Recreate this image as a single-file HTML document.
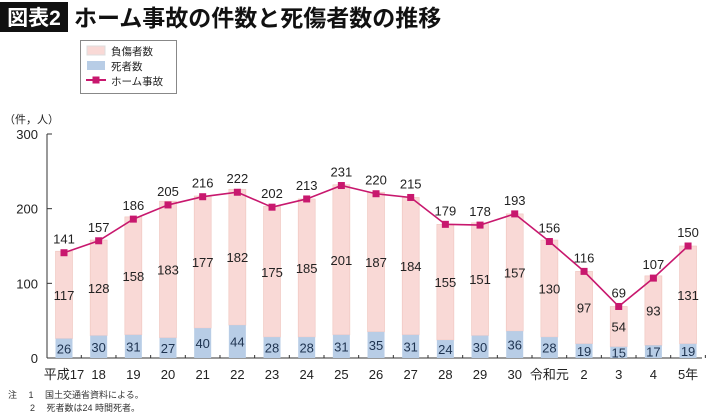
<!DOCTYPE html>
<html><head><meta charset="utf-8"><style>
body{margin:0;background:#fff;width:710px;height:416px;overflow:hidden;font-family:"Liberation Sans","Noto Sans CJK JP",sans-serif}
svg{display:block}
text{font-family:"Liberation Sans","Noto Sans CJK JP",sans-serif}
</style></head><body>
<svg id="c" width="710" height="416">
<rect x="0" y="2" width="68" height="30" fill="#111"/>
<text x="34" y="25" fill="#fff" font-size="21" font-weight="bold" text-anchor="middle">図表2</text>
<text x="74" y="26" fill="#111" font-size="23" font-weight="bold">ホーム事故の件数と死傷者数の推移</text>
<g>
<rect x="80.5" y="40.5" width="96" height="53" fill="#fff" stroke="#888"/>
<rect x="87" y="46" width="18" height="9" fill="#f9d9d6" stroke="#ddd"/>
<text x="111" y="55" font-size="10.5" fill="#222">負傷者数</text>
<rect x="87" y="61" width="18" height="9" fill="#b8cde6"/>
<text x="111" y="70" font-size="10.5" fill="#222">死者数</text>
<line x1="86" y1="80" x2="106" y2="80" stroke="#c8186e" stroke-width="2"/>
<rect x="92.5" y="76.5" width="7" height="7" fill="#c8186e"/>
<text x="111" y="85" font-size="10.5" fill="#222">ホーム事故</text>
</g>
<text x="4" y="123" font-size="11" fill="#222">（件，人）</text>
<g id="plot"></g>
<text x="8" y="398" font-size="9" fill="#333">注　 1　 国土交通省資料による。</text>
<text x="30" y="411" font-size="9" fill="#333">2　 死者数は24 時間死者。</text>
</svg>
<script>
const categories=["平成17","18","19","20","21","22","23","24","25","26","27","28","29","30","令和元","2","3","4","5年"];
const accidents=[141,157,186,205,216,222,202,213,231,220,215,179,178,193,156,116,69,107,150];
const injured=[117,128,158,183,177,182,175,185,201,187,184,155,151,157,130,97,54,93,131];
const deaths=[26,30,31,27,40,44,28,28,31,35,31,24,30,36,28,19,15,17,19];
const yTicks=[0,100,200,300];
const NS="http://www.w3.org/2000/svg";
const g=document.getElementById('plot');
const y=v=>358-v*224/300;
const x=i=>64+i*34.67;
function mk(t,a,p){const e=document.createElementNS(NS,t);for(const k in a)e.setAttribute(k,a[k]);(p||g).appendChild(e);return e;}
// axes
let e=mk('line',{x1:47,y1:y(300),x2:47,y2:358,stroke:'#333','stroke-width':1});


e=mk('line',{x1:47,y1:358,x2:702,y2:358,stroke:'#333','stroke-width':1});


yTicks.forEach(v=>{
 mk('line',{x1:47,y1:y(v),x2:52,y2:y(v),stroke:'#333'});
 const t=mk('text',{x:38,y:y(v)+5,'font-size':13,'text-anchor':'end',fill:'#222'});t.textContent=v;
 
 
});
categories.forEach((c,i)=>{
 const cx=x(i),w=17;
 mk('line',{x1:cx+17.3,y1:355,x2:cx+17.3,y2:358,stroke:'#333'});
 let r=mk('rect',{x:cx-w/2,y:y(deaths[i]+injured[i]),width:w,height:y(deaths[i])-y(deaths[i]+injured[i]),fill:'#f9d9d6',stroke:'#efc4bd','stroke-width':0.6});
 
 
 r=mk('rect',{x:cx-w/2,y:y(deaths[i]),width:w,height:358-y(deaths[i]),fill:'#b8cde6'});
 
 
 let t=mk('text',{x:cx,y:(y(deaths[i]+injured[i])+y(deaths[i]))/2+5,'font-size':13,'text-anchor':'middle',fill:'#222'});t.textContent=injured[i];
 
 
 t=mk('text',{x:cx,y:(y(deaths[i])+358)/2+5,'font-size':13,'text-anchor':'middle',fill:'#1e3350'});t.textContent=deaths[i];
 
 
 t=mk('text',{x:cx,y:379,'font-size':13,'text-anchor':'middle',fill:'#222'});t.textContent=c;
 
 
});
const pl=mk('polyline',{points:accidents.map((v,i)=>x(i)+','+y(v)).join(' '),fill:'none',stroke:'#c8186e','stroke-width':1.6});


accidents.forEach((v,i)=>{
 const r=mk('rect',{x:x(i)-3.5,y:y(v)-3.5,width:7,height:7,fill:'#c8186e'});
 
 
 const t=mk('text',{x:x(i),y:y(v)-9,'font-size':13,'text-anchor':'middle',fill:'#222'});t.textContent=v;
 
 
});
</script>
</body></html>
